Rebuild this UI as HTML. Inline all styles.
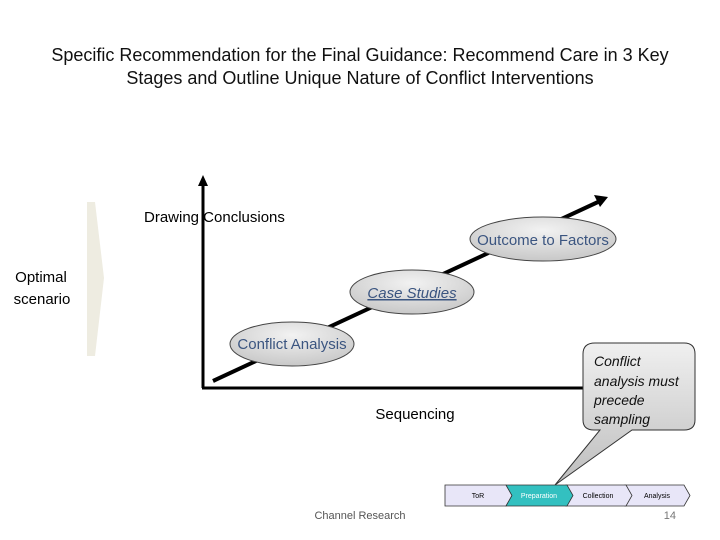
<!DOCTYPE html>
<html><head><style>
body{margin:0;width:720px;height:540px;background:#fff;overflow:hidden;font-family:"Liberation Sans",sans-serif}
</style></head><body>
<svg width="720" height="540" xmlns="http://www.w3.org/2000/svg" style="position:absolute;left:0;top:0">
<defs>
<radialGradient id="g" cx="50%" cy="30%" r="70%"><stop offset="0" stop-color="#f2f2f2"/><stop offset="1" stop-color="#c8c8c8"/></radialGradient>
<linearGradient id="cb" x1="0" y1="0" x2="0" y2="1"><stop offset="0" stop-color="#f0f0f0"/><stop offset="1" stop-color="#bdbdbd"/></linearGradient>
</defs>
<text x="360" y="61" font-size="18" text-anchor="middle" fill="#111">Specific Recommendation for the Final Guidance: Recommend Care in 3 Key</text>
<text x="360" y="84" font-size="18" text-anchor="middle" fill="#111">Stages and Outline Unique Nature of Conflict Interventions</text>
<polygon points="87,202 95,202 104,278 95,356 87,356" fill="#eeece1"/>
<text x="41" y="282" font-size="15" text-anchor="middle">Optimal</text>
<text x="42" y="304" font-size="15" text-anchor="middle">scenario</text>
<line x1="203" y1="388" x2="203" y2="184" stroke="#000" stroke-width="3"/>
<polygon points="198,186 208,186 203,175" fill="#000"/>
<line x1="202" y1="388" x2="592" y2="388" stroke="#000" stroke-width="3"/>
<line x1="213" y1="381" x2="598" y2="202" stroke="#000" stroke-width="4"/>
<polygon points="594,195 608,197 600,207" fill="#000"/>
<text x="144" y="222" font-size="15">Drawing Conclusions</text>
<ellipse cx="292" cy="344" rx="62" ry="22" fill="url(#g)" stroke="#444"/>
<text x="292" y="349" font-size="15" text-anchor="middle" fill="#3b5580">Conflict Analysis</text>
<ellipse cx="412" cy="292" rx="62" ry="22" fill="url(#g)" stroke="#444"/>
<text x="412" y="298" font-size="15" text-anchor="middle" fill="#3b5580" font-style="italic" text-decoration="underline">Case Studies</text>
<ellipse cx="543" cy="239" rx="73" ry="22" fill="url(#g)" stroke="#444"/>
<text x="543" y="245" font-size="15" text-anchor="middle" fill="#3b5580">Outcome to Factors</text>
<text x="415" y="419" font-size="15" text-anchor="middle">Sequencing</text>
<path d="M595,343 H684 Q695,343 695,354 V420 Q695,430 684,430 H632 L555,485 L600,430 H594 Q583,430 583,420 V354 Q583,343 595,343 Z" fill="url(#cb)" stroke="#333"/>
<g font-size="14" font-style="italic" fill="#111">
<text x="594" y="366">Conflict</text><text x="594" y="386">analysis must</text><text x="594" y="405">precede</text><text x="594" y="424">sampling</text></g>
<g stroke="#333" stroke-width="0.8" font-size="7" text-anchor="middle">
<polygon points="445,485 506,485 512,495.5 506,506 445,506" fill="#e8e6f8"/>
<polygon points="625,485 684,485 690,495.5 684,506 625,506 631,495.5" fill="#e8e6f8"/>
<polygon points="566,485 626,485 632,495.5 626,506 566,506 572,495.5" fill="#e8e6f8"/>
<polygon points="506,485 567,485 573,495.5 567,506 506,506 512,495.5" fill="#33c0c0"/>
<text x="478" y="498" stroke="none" fill="#000">ToR</text>
<text x="539" y="498" stroke="none" fill="#fff">Preparation</text>
<text x="598" y="498" stroke="none" fill="#000">Collection</text>
<text x="657" y="498" stroke="none" fill="#000">Analysis</text>
</g>
<text x="360" y="519" font-size="11" text-anchor="middle" fill="#555">Channel Research</text>
<text x="676" y="519" font-size="11" text-anchor="end" fill="#777">14</text>
</svg>
</body></html>
